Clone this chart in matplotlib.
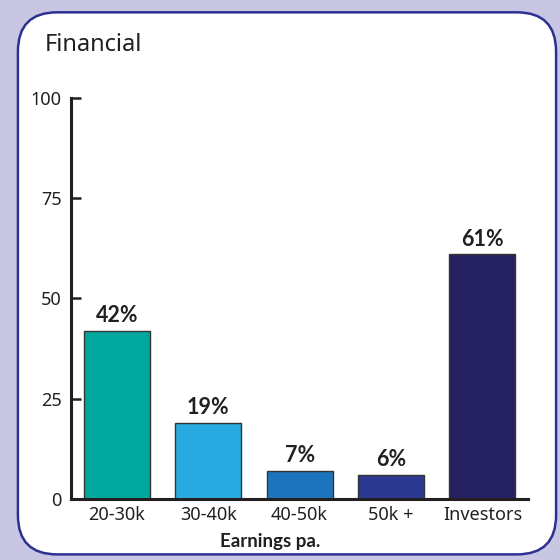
import matplotlib.pyplot as plt
from matplotlib.patches import FancyBboxPatch

plt.rcParams['font.family'] = ['Noto Sans', 'DejaVu Sans']
BOLD = ['Lato', 'DejaVu Sans']

categories = ['20-30k', '30-40k', '40-50k', '50k +', 'Investors']
values = [42, 19, 7, 6, 61]
labels = ['42%', '19%', '7%', '6%', '61%']
colors = ['#00a79d', '#29abe2', '#1c75bc', '#2b3990', '#262262']
yticks = [0, 25, 50, 75, 100]

fig = plt.figure(figsize=(5.6, 5.6), dpi=100)
fig.patch.set_facecolor('#c8c6e2')

# panneau blanc arrondi
panel = FancyBboxPatch((0.032, 0.010), 0.961, 0.968,
                       boxstyle='round,pad=0,rounding_size=0.07',
                       transform=fig.transFigure, facecolor='white',
                       edgecolor='#2e3192', linewidth=1.8, zorder=-5)
fig.patches.append(panel)

fig.text(0.08, 0.92, 'Financial', fontsize=17, color='#231f20', va='center')

ax = fig.add_axes([0.127, 0.109, 0.816, 0.716])
ax.set_facecolor('none')
x = range(len(categories))
bars = ax.bar(x, values, width=0.72, color=colors, edgecolor='#333333', linewidth=1)
for b, lab in zip(bars, labels):
    ax.text(b.get_x() + b.get_width() / 2, b.get_height() + 1.2, lab,
            ha='center', va='bottom', fontsize=15.5, fontweight='bold',
            family=BOLD, color='#231f20')

ax.set_xlim(-0.5, 4.5)
ax.set_ylim(0, 100)
ax.set_yticks(yticks)
ax.set_xticks(list(x))
ax.set_xticklabels(categories)
ax.tick_params(axis='y', direction='in', length=7, width=1.8, labelsize=13,
               pad=7, colors='#231f20')
ax.tick_params(axis='x', length=0, labelsize=13, pad=5, colors='#231f20')
for s in ['top', 'right']:
    ax.spines[s].set_visible(False)
for s in ['left', 'bottom']:
    ax.spines[s].set_linewidth(2.2)
    ax.spines[s].set_color('#231f20')
ax.set_xlabel('Earnings pa.', fontsize=13.5, fontweight='bold', family=BOLD,
              color='#231f20')
ax.xaxis.set_label_coords(0.435, -0.085)

fig.savefig('out.png', dpi=100, facecolor=fig.get_facecolor())
